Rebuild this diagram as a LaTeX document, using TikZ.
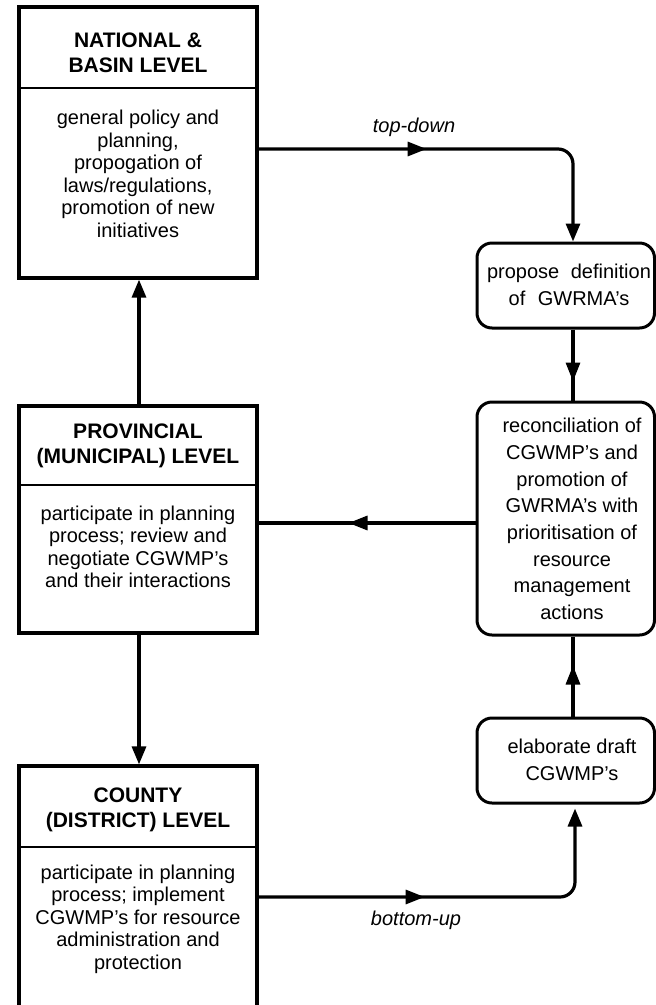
\documentclass[tikz,border=0pt]{standalone}
\usepackage{fontspec}
\setmainfont{Liberation Sans}
\usetikzlibrary{arrows.meta,decorations.markings}
\begin{document}
\begin{tikzpicture}[x=1pt,y=-1pt,
  lvlbox/.style={draw, line width=3.2pt, minimum width=238pt, inner sep=0pt},
  procbox/.style={draw, line width=3pt, rounded corners=15pt, minimum width=177.5pt, inner sep=0pt},
  hdr/.style={align=center, font=\fontsize{21}{25}\selectfont\bfseries, inner sep=0pt},
  bodytext/.style={align=center, font=\fontsize{20}{22.5}\selectfont, inner sep=0pt},
  rbody/.style={align=center, font=\fontsize{20}{26.7}\selectfont, inner sep=0pt},
  conn/.style={line width=3.2pt},
  arr/.style={-{Triangle[length=18pt,width=14pt]}},
  midarrow/.style={postaction={decorate}, decoration={markings,
      mark=at position #1 with {\arrow{Triangle[length=19pt,width=14pt]}}}},
  divider/.style={line width=2.2pt},
  lbl/.style={font=\fontsize{20}{24}\selectfont\itshape, inner sep=0pt}
]
\useasboundingbox (0,0) rectangle (656,1005);
\clip (0,0) rectangle (656,1005);

% left column
\node[lvlbox, minimum height=271pt] (nat) at (138,142.5) {};
\coordinate (natdiv) at (0,88);
\draw[divider] (nat.west |- natdiv) -- (nat.east |- natdiv);
\node[hdr] (nathdr) at (138,52.5) {NATIONAL \&\\BASIN LEVEL};
\node[bodytext] (natbody) at (138,174) {general policy and\\planning,\\propogation of\\laws/regulations,\\promotion of new\\initiatives};

\node[lvlbox, minimum height=227pt] (prov) at (138,519.5) {};
\coordinate (provdiv) at (0,485);
\draw[divider] (prov.west |- provdiv) -- (prov.east |- provdiv);
\node[hdr] (provhdr) at (138,445.5) {PROVINCIAL\\(MUNICIPAL) LEVEL};
\node[bodytext] (provbody) at (138,547) {participate in planning\\process; review and\\negotiate CGWMP’s\\and their interactions};

\node[lvlbox, minimum height=264pt] (cty) at (138,898) {};
\coordinate (ctydiv) at (0,847);
\draw[divider] (cty.west |- ctydiv) -- (cty.east |- ctydiv);
\node[hdr] (ctyhdr) at (138,809.5) {COUNTY\\(DISTRICT) LEVEL};
\node[bodytext] (ctybody) at (138,919) {participate in planning\\process; implement\\CGWMP’s for resource\\administration and\\protection};

% right column
\node[procbox, minimum height=85pt] (prop) at (565.75,285.5) {};
\node[rbody] (proptxt) at (569,285) {propose\hspace{6pt} definition\\of\hspace{7pt} GWRMA’s};
\node[procbox, minimum height=233pt] (rec) at (565.75,518.5) {};
\node[rbody] (rectxt) at (572,519) {reconciliation of\\CGWMP’s and\\promotion of\\GWRMA’s with\\prioritisation of\\resource\\management\\actions};
\node[procbox, minimum height=85pt] (elab) at (565.75,760.5) {};
\node[rbody] (elabtxt) at (572,760) {elaborate draft\\CGWMP’s};

% connectors
\coordinate (rx) at (573,0);
\coordinate (lx) at (139,0);
\coordinate (bx) at (575,0);
\coordinate (tdy) at (0,149);
\coordinate (rpy) at (0,523);
\coordinate (buy) at (0,897);

\draw[conn,arr,rounded corners=15pt,midarrow=168pt]
  (nat.east |- tdy) -- (rx |- tdy) -- (prop.north -| rx);

\draw[conn,midarrow=52pt] (prop.south -| rx) -- (rec.north -| rx);

\draw[conn,midarrow=127pt] (rec.west |- rpy) -- (prov.east |- rpy);

\draw[conn,midarrow=51pt] (elab.north -| rx) -- (rec.south -| rx);

\draw[conn,arr,rounded corners=15pt,shorten >=4pt,midarrow=166pt]
  (cty.east |- buy) -- (bx |- buy) -- (elab.south -| bx);

\draw[conn,arr] (prov.north -| lx) -- (nat.south -| lx);
\draw[conn,arr] (prov.south -| lx) -- (cty.north -| lx);

\node[lbl] (tdl) at (414,127) {top-down};
\node[lbl] (bul) at (416,920) {bottom-up};
\end{tikzpicture}
\end{document}
